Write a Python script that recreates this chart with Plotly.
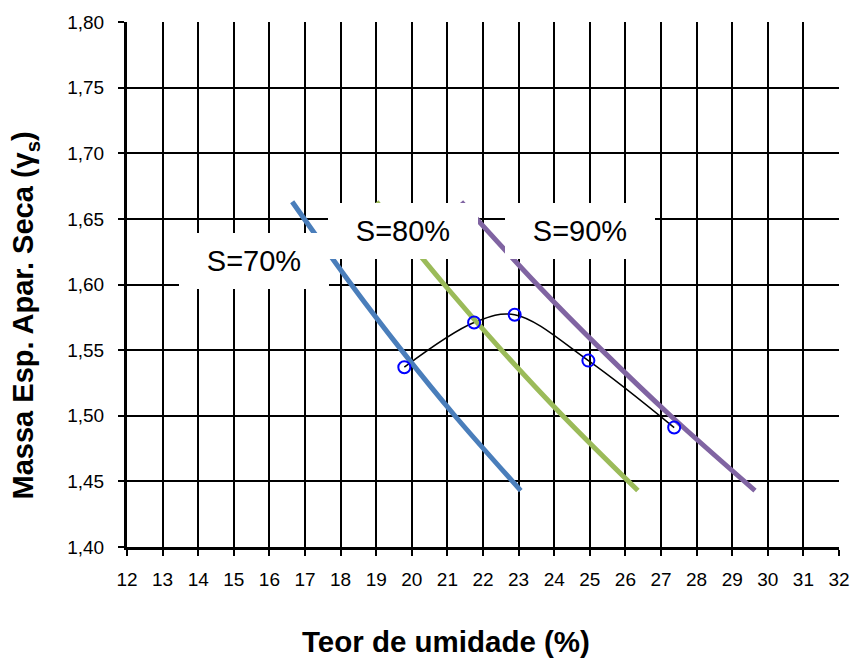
import plotly.graph_objects as go

# Ensaio de compactação: teor de umidade (%) x massa específica aparente seca
umidade = [19.79, 21.75, 22.89, 24.96, 27.37]
massa_seca = [1.537, 1.571, 1.577, 1.542, 1.491]

# Curvas de saturação (S = 70 %, 80 %, 90 %)
sat_gamma = [1.663, 1.60, 1.55, 1.50, 1.443]
sat70_w = [16.64, 18.30, 19.71, 21.21, 23.06]
sat80_w = [19.01, 20.91, 22.52, 24.24, 26.35]
sat90_w = [21.39, 23.52, 25.34, 27.27, 29.64]

sat_labels = ["S=70%", "S=80%", "S=90%"]
sat_colors = ["#4A7EBB", "#9BBB59", "#8064A2"]

x_ticks = list(range(12, 33))
y_ticks = [1.40, 1.45, 1.50, 1.55, 1.60, 1.65, 1.70, 1.75, 1.80]

FONT = "Liberation Sans, Arial, sans-serif"

fig = go.Figure()

# curva de compactação (linha suavizada)
fig.add_trace(go.Scatter(
    x=umidade, y=massa_seca, mode="lines",
    line=dict(color="black", width=1.5, shape="spline", smoothing=1),
    showlegend=False, hoverinfo="skip"))

for w, col in zip([sat70_w, sat80_w, sat90_w], sat_colors):
    fig.add_trace(go.Scatter(
        x=w, y=sat_gamma, mode="lines",
        line=dict(color=col, width=5, shape="spline"),
        showlegend=False))

# pontos do ensaio
fig.add_trace(go.Scatter(
    x=umidade, y=massa_seca, mode="markers",
    marker=dict(symbol="circle-open", size=12, color="#0000FF",
                line=dict(width=2, color="#0000FF")),
    showlegend=False))

# rótulos das curvas de saturação (caixas brancas)
label_pos = [(15.573, 1.618), (19.756, 1.6405), (24.715, 1.6405)]
for txt, (lx, ly) in zip(sat_labels, label_pos):
    fig.add_annotation(
        x=lx, y=ly, xref="x", yref="y", text=txt, showarrow=False,
        xanchor="center", yanchor="middle", width=150, height=56,
        bgcolor="white", borderpad=0, borderwidth=0,
        font=dict(family=FONT, size=29, color="black"))

# títulos dos eixos
plot_l, plot_r, plot_t, plot_b = 127, 849, 22, 547
pw, ph = plot_r - plot_l, plot_b - plot_t
fig.add_annotation(
    text="<b>Massa Esp. Apar. Seca (γ<sub>s</sub>)</b>", textangle=-90,
    xref="paper", yref="paper", x=(24 - plot_l) / pw, y=(plot_b - 315) / ph,
    xanchor="center", yanchor="middle", showarrow=False,
    font=dict(family=FONT, size=29, color="black"))
fig.add_annotation(
    text="<b>Teor de umidade (%)</b>",
    xref="paper", yref="paper", x=(450 - plot_l) / pw, y=(plot_b - 641) / ph,
    xanchor="center", yanchor="middle", showarrow=False,
    font=dict(family=FONT, size=29.5, color="black"))

axis_common = dict(
    showgrid=True, gridcolor="black", gridwidth=2,
    showline=True, linecolor="black", linewidth=3,
    ticks="outside", ticklen=6, tickwidth=2, tickcolor="black",
    zeroline=False,
    tickfont=dict(family=FONT, size=19, color="black"))

fig.update_xaxes(range=[12, 32], tickvals=x_ticks,
                 ticktext=[str(v) for v in x_ticks],
                 ticklabelstandoff=7, **axis_common)
fig.update_yaxes(range=[1.40, 1.80], tickvals=y_ticks, tickformat=".2f",
                 ticklabelstandoff=10, **axis_common)

fig.update_layout(
    width=862, height=659,
    margin=dict(l=plot_l, r=862 - plot_r, t=plot_t, b=659 - plot_b),
    paper_bgcolor="white", plot_bgcolor="white",
    separators=", ",
    font=dict(family=FONT, color="black"))

fig.write_html("out.html")
